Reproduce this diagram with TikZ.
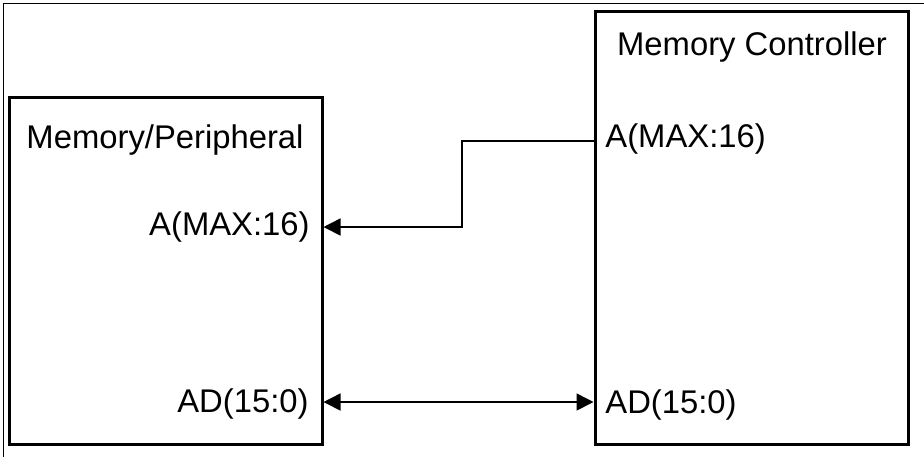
\documentclass[tikz,border=0pt]{standalone}
\usepackage{fontspec}
\setmainfont{Liberation Sans}
\usetikzlibrary{arrows.meta, positioning, calc}
\tikzset{
  block/.style={draw=black, line width=1.5pt, fill=none,
                inner sep=0pt, minimum width=156.5pt},
  title/.style={anchor=base, inner sep=0pt,
                font=\fontsize{16.4}{19}\selectfont},
  pinL/.style={anchor=base east, inner sep=0pt,
               font=\fontsize{16.4}{19}\selectfont},
  pinR/.style={anchor=base west, inner sep=0pt,
               font=\fontsize{16.4}{19}\selectfont},
  wire/.style={draw=black, line width=0.8pt},
  tip/.style={-{Triangle[length=8.5pt, width=8.5pt]}},
  tips/.style={{Triangle[length=8.5pt, width=8.5pt]}-{Triangle[length=8.5pt, width=8.5pt]}},
}
\begin{document}
\begin{tikzpicture}[x=0.5pt, y=-0.5pt]
    \useasboundingbox (0,0) rectangle (924,457);
    %% outer frame (only top and left edges show)
    \draw[line width=0.5pt] (3,457) -- (3,3) -- (924,3);
    %% the two blocks
    \node[block, minimum height=173.5pt] (mem) at (165.5,270.5) {};
    \node[block, minimum height=216.5pt] (ctrl) at (751.5,227.5) {};
    %% block titles
    \node[title] (memT) at (165,148) {Memory/Peripheral};
    \node[title] (ctrlT) at (752,55) {Memory Controller};
    %% pin labels
    \node[pinL] (memA) at (310,235) {A(MAX:16)};
    \node[pinL] (memAD) at (309,412) {AD(15:0)};
    \node[pinR] (ctrlA) at (605,147) {A(MAX:16)};
    \node[pinR] (ctrlAD) at (605,413) {AD(15:0)};
    %% signal lines
    \draw[wire, tip] (ctrl.west |- 0,141) -| (462,184) |- (mem.east |- 0,227);
    \draw[wire, tips] (mem.east |- 0,402) -- (ctrl.west |- 0,402);
  \end{tikzpicture}
\end{document}
